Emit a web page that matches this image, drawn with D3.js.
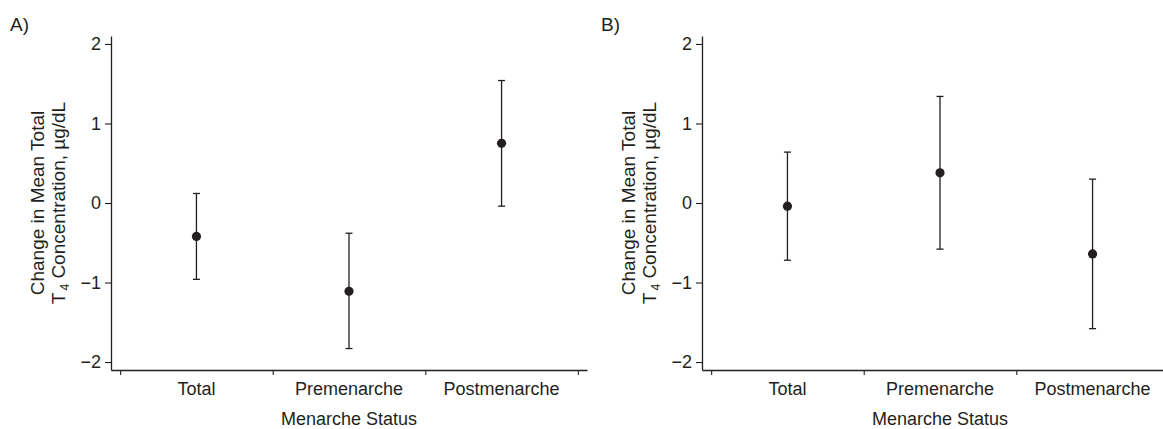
<!DOCTYPE html>
<html>
<head>
<meta charset="utf-8">
<script src="https://cdn.jsdelivr.net/npm/d3@7"></script>
<style>
  body { margin: 0; background: #fff; }
  svg text { font-family: "Liberation Sans", Arial, Helvetica, sans-serif; fill: #231f20; }
</style>
</head>
<body>
<svg id="chart" width="1163" height="429"></svg>
<script>
// categories and values
const categories = ["Total", "Premenarche", "Postmenarche"];
const meanA  = [-0.42, -1.11, 0.75];
const lowerA = [-0.96, -1.83, -0.04];
const upperA = [0.12, -0.38, 1.54];
const meanB  = [-0.04, 0.38, -0.64];
const lowerB = [-0.72, -0.58, -1.58];
const upperB = [0.64, 1.34, 0.30];
const yTicks = [-2, -1, 0, 1, 2];
const panelLabels = ["A)", "B)"];

var svg = d3.select("#chart");
var ink = "#231f20";

// y scale shared by both panels
var y = d3.scaleLinear()
    .domain([-2.1, 2.1])
    .range([370, 36]);

function drawPanel(left, label, mean, lower, upper) {
    var g = svg.append("g");

    // x scale: category boundaries at 0..3, labels at the middles
    var x = d3.scaleLinear()
        .domain([-0.06, 3.06])
        .range([left, left + 476]);

    // panel letter
    g.append("text")
        .attr("x", left - 101)
        .attr("y", 31)
        .style("font-size", "19px")
        .text(label);

    // Y axis
    g.append("g")
        .attr("transform", "translate(" + left + ",0)")
        .call(d3.axisLeft(y)
            .tickValues(yTicks)
            .tickSize(6)
            .tickSizeOuter(0)
            .tickPadding(4)
            .tickFormat(d3.format("d")))
        .call(function(a) {
            a.select(".domain").attr("stroke", ink).attr("stroke-width", 1.3);
            a.selectAll(".tick line").attr("stroke", ink).attr("stroke-width", 1.1);
            a.selectAll(".tick text")
                .style("font-size", "18px")
                .attr("font-family", null)
                .attr("fill", ink);
        });

    // X axis: ticks at the boundaries, no tick text
    g.append("g")
        .attr("transform", "translate(0,370)")
        .call(d3.axisBottom(x)
            .tickValues(d3.range(categories.length + 1))
            .tickSize(5)
            .tickSizeOuter(0)
            .tickFormat(""))
        .call(function(a) {
            a.select(".domain").attr("stroke", ink).attr("stroke-width", 1.3);
            a.selectAll(".tick line").attr("stroke", ink).attr("stroke-width", 1.1);
        });

    // category labels
    g.selectAll(".cat")
        .data(categories)
        .enter()
        .append("text")
        .attr("class", "cat")
        .attr("x", function(d, i) { return x(i + 0.5); })
        .attr("y", 395)
        .attr("text-anchor", "middle")
        .style("font-size", "18px")
        .text(function(d) { return d; });

    // x title
    g.append("text")
        .attr("x", x(1.5))
        .attr("y", 425)
        .attr("text-anchor", "middle")
        .style("font-size", "18px")
        .text("Menarche Status");

    // y title (two lines)
    var cy = y(0);
    g.append("text")
        .attr("transform", "translate(" + (left - 67) + "," + cy + ")rotate(-90)")
        .attr("text-anchor", "middle")
        .style("font-size", "19px")
        .text("Change in Mean Total");
    var t2 = g.append("text")
        .attr("transform", "translate(" + (left - 46) + "," + cy + ")rotate(-90)")
        .attr("text-anchor", "middle")
        .style("font-size", "19px");
    t2.append("tspan").text("T");
    t2.append("tspan").attr("dy", 4).attr("dx", 2).style("font-size", "12px").text("4");
    t2.append("tspan").attr("dy", -4).text(" Concentration, \u00b5g/dL");

    // error bars
    var bars = g.selectAll(".bar")
        .data(categories)
        .enter()
        .append("g")
        .attr("class", "bar");

    bars.append("line")
        .attr("x1", function(d, i) { return x(i + 0.5); })
        .attr("x2", function(d, i) { return x(i + 0.5); })
        .attr("y1", function(d, i) { return y(lower[i]); })
        .attr("y2", function(d, i) { return y(upper[i]); })
        .attr("stroke", ink)
        .attr("stroke-width", 1.3);

    [lower, upper].forEach(function(v) {
        bars.append("line")
            .attr("x1", function(d, i) { return x(i + 0.5) - 3.5; })
            .attr("x2", function(d, i) { return x(i + 0.5) + 3.5; })
            .attr("y1", function(d, i) { return y(v[i]); })
            .attr("y2", function(d, i) { return y(v[i]); })
            .attr("stroke", ink)
            .attr("stroke-width", 1.3);
    });

    bars.append("circle")
        .attr("cx", function(d, i) { return x(i + 0.5); })
        .attr("cy", function(d, i) { return y(mean[i]); })
        .attr("r", 4.6)
        .attr("fill", ink);
}

drawPanel(111, panelLabels[0], meanA, lowerA, upperA);
drawPanel(702, panelLabels[1], meanB, lowerB, upperB);
</script>
</body>
</html>
